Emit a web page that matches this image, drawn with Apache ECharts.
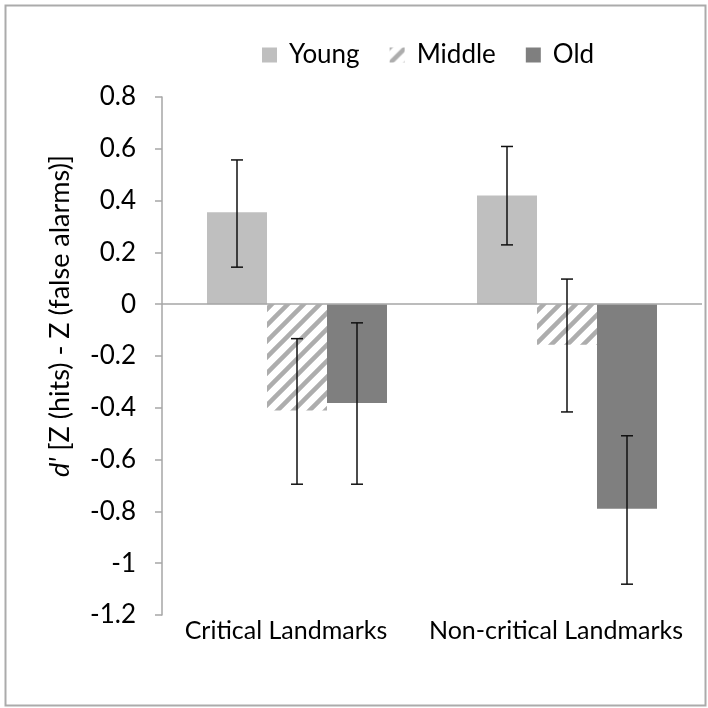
<!DOCTYPE html>
<html>
<head>
<meta charset="utf-8">
<script src="https://cdn.jsdelivr.net/npm/echarts@6/dist/echarts.min.js"></script>
<style>
html,body{margin:0;padding:0;background:#fff;}
#chart{width:708px;height:708px;}
</style>
</head>
<body>
<div id="chart"></div>
<script>
const categories = ['Critical Landmarks', 'Non-critical Landmarks'];
const seriesNames = ['Young', 'Middle', 'Old'];
const young = [0.355, 0.42];
const middle = [-0.41, -0.157];
const old = [-0.381, -0.79];
// error bar [low, high]
const youngErr = [[0.143, 0.557], [0.229, 0.609]];
const middleErr = [[-0.695, -0.133], [-0.416, 0.097]];
const oldErr = [[-0.695, -0.072], [-1.081, -0.508]];
const yMin = -1.2, yMax = 0.8, yStep = 0.2;

const FONT = 'Lato, "Open Sans", sans-serif';
const BAR_W = 60;

function makeHatch() {
  const s = 16;
  const c = document.createElement('canvas');
  c.width = s; c.height = s;
  const g = c.getContext('2d');
  g.fillStyle = '#ffffff';
  g.fillRect(0, 0, s, s);
  g.strokeStyle = '#adadad';
  g.lineWidth = 4.5;
  g.beginPath();
  g.moveTo(-2, s + 2); g.lineTo(s + 2, -2);
  g.moveTo(-4, 4); g.lineTo(4, -4);
  g.moveTo(s - 4, s + 4); g.lineTo(s + 4, s - 4);
  g.stroke();
  return c;
}
const hatch = { image: makeHatch(), repeat: 'repeat' };

const errSets = [youngErr, middleErr, oldErr];
const errData = [];
errSets.forEach(function (set, k) {
  set.forEach(function (e, i) { errData.push([i, e[0], e[1], k]); });
});

const chart = echarts.init(document.getElementById('chart'), null, { renderer: 'canvas' });
chart.setOption({
  backgroundColor: '#ffffff',
  animation: false,
  textStyle: { fontFamily: FONT },
  grid: { left: 162, right: 6, top: 97, bottom: 93, containLabel: false },
  legend: {
    data: seriesNames,
    left: 262, top: 42, padding: 0,
    icon: 'rect',
    itemWidth: 15, itemHeight: 15, itemGap: 30,
    textStyle: { fontSize: 26, color: '#000', fontFamily: FONT, padding: [0, 0, 0, 7] }
  },
  xAxis: {
    type: 'category',
    data: categories,
    axisLine: { show: false, onZero: false },
    axisTick: { show: false },
    splitLine: { show: false },
    axisLabel: { interval: 0, fontSize: 25, color: '#000', fontFamily: FONT, margin: 3, padding: [0, 22, 0, 0] }
  },
  yAxis: {
    type: 'value',
    min: yMin, max: yMax, interval: yStep,
    axisLine: { show: true, lineStyle: { color: '#a6a6a6', width: 1.5 } },
    axisTick: { show: true, length: 7, lineStyle: { color: '#a6a6a6', width: 1.5 } },
    splitLine: { show: false },
    axisLabel: {
      fontSize: 26, color: '#000', fontFamily: FONT, margin: 26,
      formatter: function (v) { return String(Math.round(v * 10) / 10); }
    }
  },
  graphic: [
    {
      type: 'rect', left: 3, top: 3, z: 100, silent: true,
      shape: { width: 700, height: 700 },
      style: { fill: 'none', stroke: '#ababab', lineWidth: 2 }
    },
    {
      type: 'text', x: 60, y: 316, rotation: Math.PI / 2, silent: true,
      style: {
        text: "{i|d'} [Z (hits) - Z (false alarms)]",
        fontSize: 27, fontFamily: FONT, fill: '#000',
        align: 'center', verticalAlign: 'middle',
        rich: { i: { fontStyle: 'italic', fontSize: 27, fontFamily: FONT } }
      }
    }
  ],
  series: [
    {
      name: 'Young', type: 'bar', data: young, barWidth: BAR_W, barGap: '0%',
      itemStyle: { color: '#bfbfbf' },
      markLine: {
        silent: true, symbol: 'none', animation: false,
        label: { show: false },
        lineStyle: { color: '#a6a6a6', width: 1.5, type: 'solid' },
        data: [{ yAxis: 0 }]
      }
    },
    {
      name: 'Middle', type: 'bar', data: middle, barWidth: BAR_W, barGap: '0%',
      itemStyle: { color: hatch }
    },
    {
      name: 'Old', type: 'bar', data: old, barWidth: BAR_W, barGap: '0%',
      itemStyle: { color: '#7f7f7f' }
    },
    {
      name: 'err', type: 'custom', z: 10,
      data: errData,
      encode: { x: 0, y: [1, 2] },
      renderItem: function (params, api) {
        const cat = api.value(0), lo = api.value(1), hi = api.value(2), k = api.value(3);
        const pHi = api.coord([cat, hi]);
        const pLo = api.coord([cat, lo]);
        const x = pHi[0] + (k - 1) * BAR_W;
        const cap = 6;
        const st = { stroke: '#111', lineWidth: 1.5 };
        return {
          type: 'group',
          children: [
            { type: 'line', shape: { x1: x, y1: pHi[1], x2: x, y2: pLo[1] }, style: st },
            { type: 'line', shape: { x1: x - cap, y1: pHi[1], x2: x + cap, y2: pHi[1] }, style: st },
            { type: 'line', shape: { x1: x - cap, y1: pLo[1], x2: x + cap, y2: pLo[1] }, style: st }
          ]
        };
      }
    }
  ]
});
</script>
</body>
</html>
